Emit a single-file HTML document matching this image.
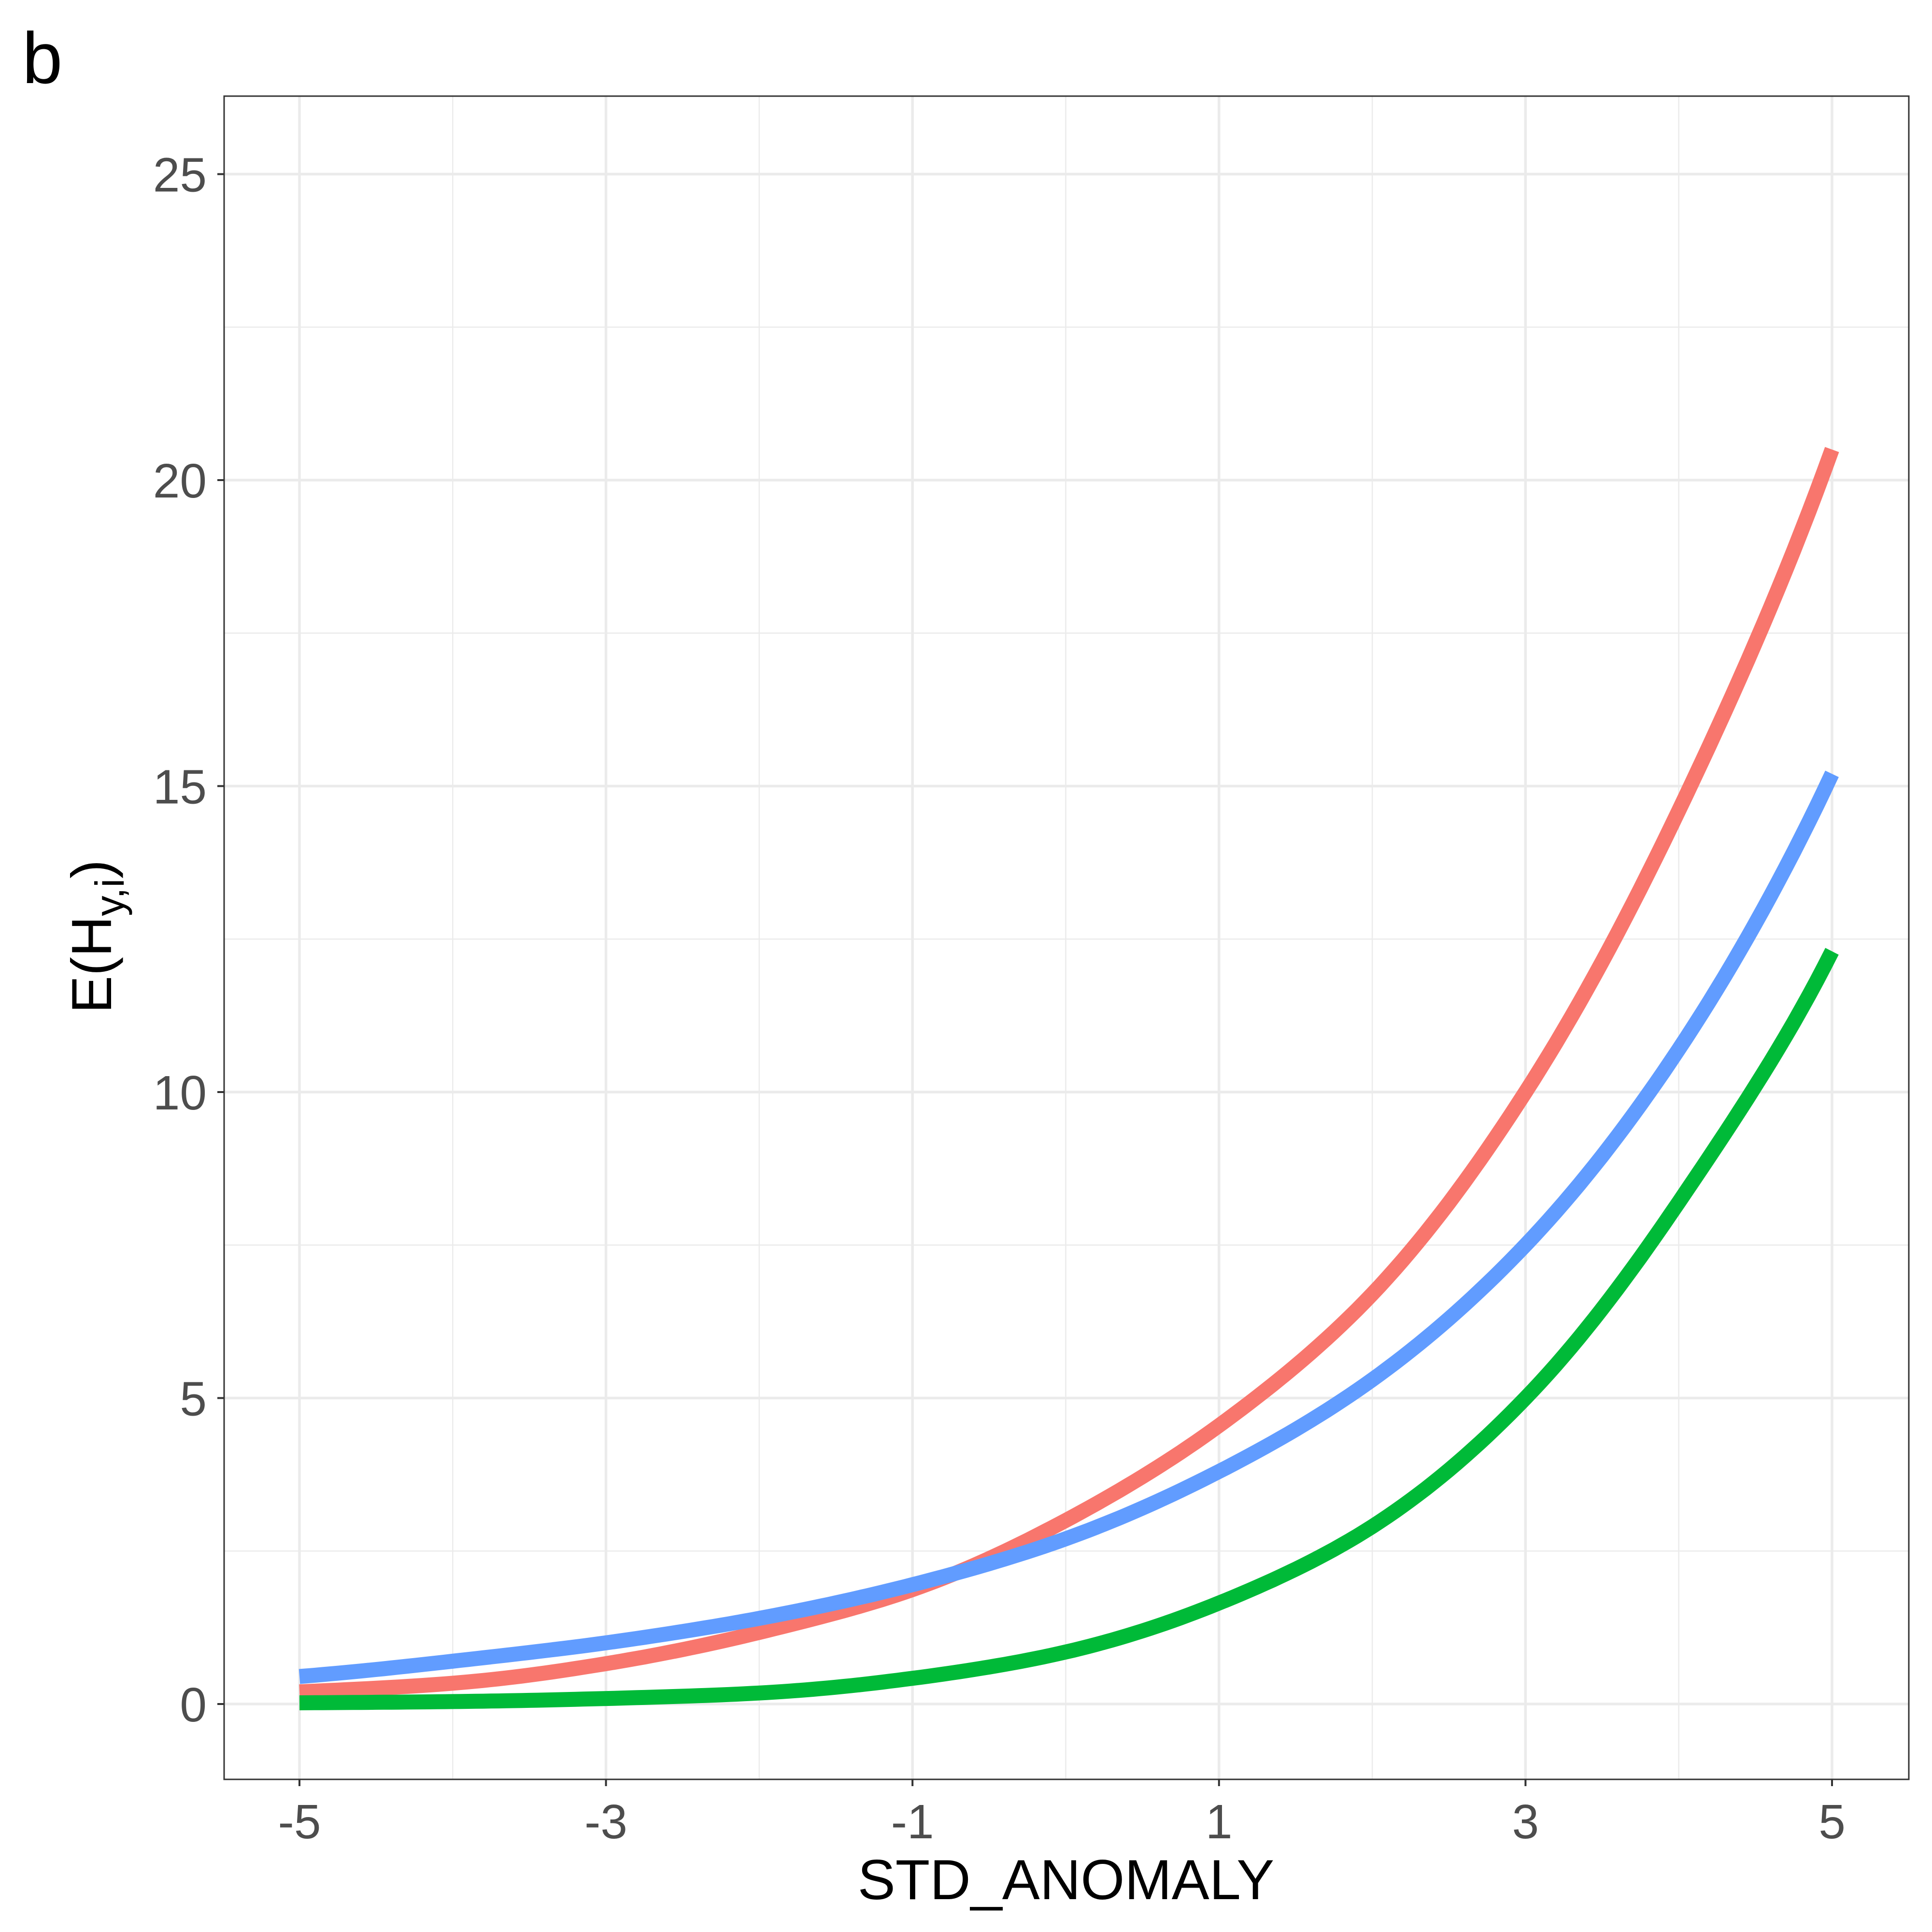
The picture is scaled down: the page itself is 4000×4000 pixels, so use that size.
<!DOCTYPE html>
<html><head><meta charset="utf-8"><style>
html,body{margin:0;padding:0;background:#fff;}
svg{display:block;font-family:"Liberation Sans",Arial,sans-serif;}
</style></head><body>
<svg id="chart" width="4000" height="4000" viewBox="0 0 4000 4000" xmlns="http://www.w3.org/2000/svg">
<rect width="4000" height="4000" fill="#fff"/>
<text x="46" y="172" font-size="150" fill="#000">b</text>
<g id="grid"></g>
<g id="series"></g>
<rect x="464" y="199" width="3488" height="3485" fill="none" stroke="#333" stroke-width="3"/>
<g id="axes"></g>
<text x="2207" y="3932" font-size="117" text-anchor="middle" fill="#000">STD_ANOMALY</text>
<text transform="translate(230,1939) rotate(-90)" font-size="117" text-anchor="middle" fill="#000">E(H<tspan font-size="84" dy="26">y,i</tspan><tspan dy="-26">)</tspan></text>
</svg>
<script>
const xs = [-5,-4,-3,-2,-1,0,1,2,3,4,5];
const redVals = [0.2,0.34,0.66,1.17,1.87,3.0,4.55,6.7,10.0,14.6,20.5];
const blueVals = [0.45,0.7,1.0,1.4,1.95,2.7,3.8,5.3,7.5,10.7,15.2];
const greenVals = [0.02,0.04,0.09,0.18,0.42,0.85,1.65,2.9,5.0,8.2,12.3];
const xTicks = [-5,-3,-1,1,3,5];
const xMinor = [-4,-2,0,2,4];
const yTicks = [0,5,10,15,20,25];
const yMinor = [2.5,7.5,12.5,17.5,22.5];
const NS="http://www.w3.org/2000/svg";
function sx(v){return 620+(v+5)*317.3;}
function sy(v){return 3528-v*126.7;}
function mk(tag,attrs,parent){const e=document.createElementNS(NS,tag);for(const k in attrs)e.setAttribute(k,attrs[k]);parent.appendChild(e);return e;}
const grid=document.getElementById('grid'),axes=document.getElementById('axes'),ser=document.getElementById('series');
yMinor.forEach(v=>{const l=mk('line',{x1:464,x2:3952,y1:sy(v),y2:sy(v),stroke:'#ebebeb','stroke-width':2.5},grid);

});
xMinor.forEach(v=>{const l=mk('line',{y1:199,y2:3684,x1:sx(v),x2:sx(v),stroke:'#ebebeb','stroke-width':2.5},grid);

});
yTicks.forEach(v=>{const l=mk('line',{x1:464,x2:3952,y1:sy(v),y2:sy(v),stroke:'#ebebeb','stroke-width':5.5},grid);


const t=mk('line',{x1:450,x2:464,y1:sy(v),y2:sy(v),stroke:'#333','stroke-width':4},axes);


const tx=mk('text',{x:428,y:sy(v)+36,'font-size':100,'text-anchor':'end',fill:'#4d4d4d'},axes);tx.textContent=v;

});
xTicks.forEach(v=>{const l=mk('line',{y1:199,y2:3684,x1:sx(v),x2:sx(v),stroke:'#ebebeb','stroke-width':5.5},grid);


const t=mk('line',{y1:3684,y2:3698,x1:sx(v),x2:sx(v),stroke:'#333','stroke-width':4},axes);


const tx=mk('text',{x:sx(v),y:3806,'font-size':100,'text-anchor':'middle',fill:'#4d4d4d'},axes);tx.textContent=v;

});
function draw(vals,color,name){
  const L=vals.map(Math.log),n=L.length,pts=[];
  const m=L.map((_,i)=>i===0?L[1]-L[0]:i===n-1?L[n-1]-L[n-2]:(L[i+1]-L[i-1])/2);
  for(let i=0;i<n-1;i++){
    for(let s=0;s<20;s++){const t=s/20,t2=t*t,t3=t2*t;
      const v=(2*t3-3*t2+1)*L[i]+(t3-2*t2+t)*m[i]+(-2*t3+3*t2)*L[i+1]+(t3-t2)*m[i+1];
      pts.push([sx(xs[i]+t*(xs[i+1]-xs[i])),sy(Math.exp(v))]);}
  }
  pts.push([sx(xs[n-1]),sy(vals[n-1])]);
  const p=mk('polyline',{points:pts.map(q=>q[0].toFixed(1)+','+q[1].toFixed(1)).join(' '),fill:'none',stroke:color,'stroke-width':31,'stroke-linejoin':'round'},ser);
  
  
}
draw(redVals,'#F8766D','red-series-line');
draw(greenVals,'#00BA38','green-series-line');
draw(blueVals,'#619CFF','blue-series-line');
</script>
</body></html>
